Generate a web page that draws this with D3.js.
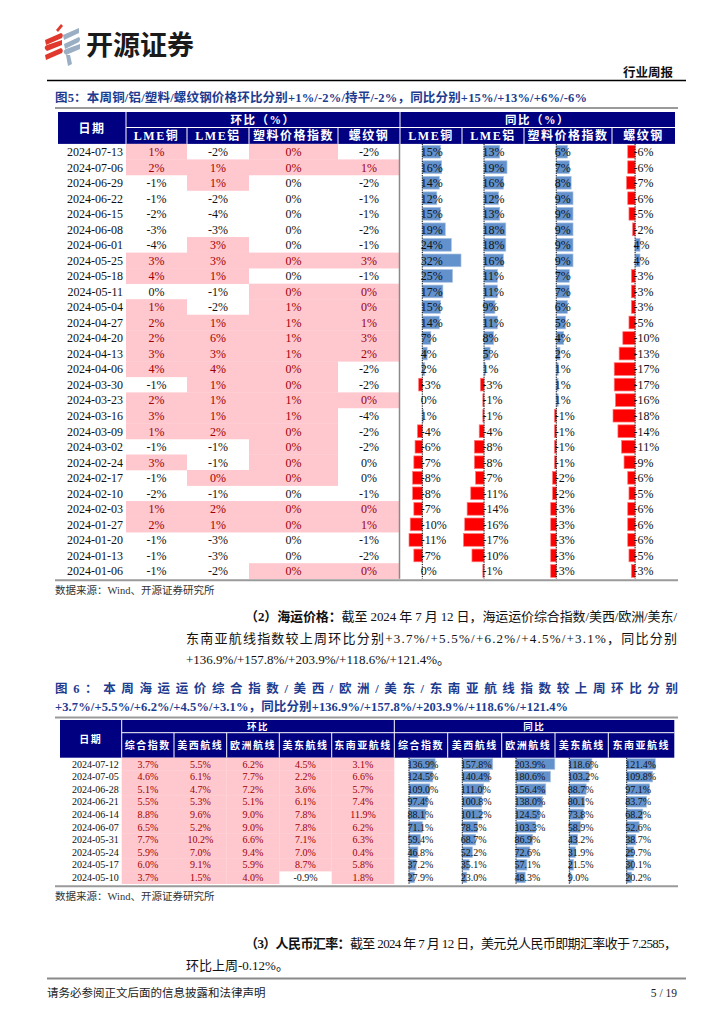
<!DOCTYPE html>
<html><head><meta charset="utf-8">
<script src="https://cdn.jsdelivr.net/npm/d3@7"></script>
<style>body{margin:0;background:#fff}svg{display:block}</style>
</head><body>
<svg id="c" width="724" height="1024"></svg>
<script>
// ---------------- DATA: Figure 5 ----------------
const dates5 = ["2024-07-13","2024-07-06","2024-06-29","2024-06-22","2024-06-15","2024-06-08","2024-06-01","2024-05-25","2024-05-18","2024-05-11","2024-05-04","2024-04-27","2024-04-20","2024-04-13","2024-04-06","2024-03-30","2024-03-23","2024-03-16","2024-03-09","2024-03-02","2024-02-24","2024-02-17","2024-02-10","2024-02-03","2024-01-27","2024-01-20","2024-01-13","2024-01-06"];
const cols5 = ["LME铜","LME铝","塑料价格指数","螺纹钢"];
const hbCu     = [1,2,-1,-1,-2,-3,-4,3,4,0,1,2,2,3,4,-1,2,3,1,-1,3,-1,-2,1,2,-1,-1,-1];
const hbCuPink = [1,1,0,0,0,0,0,1,1,0,1,1,1,1,1,0,1,1,1,0,1,0,0,1,1,0,0,0];
const hbAl     = [-2,1,1,-2,-4,-3,3,3,1,-1,-2,1,6,3,4,1,1,1,2,-1,-1,0,-1,2,1,-3,-3,-2];
const hbAlPink = [0,1,1,0,0,0,1,1,1,0,0,1,1,1,1,1,1,1,1,0,0,1,0,1,1,0,0,0];
const hbPl     = [0,0,0,0,0,0,0,0,0,0,1,1,1,1,0,0,1,1,0,0,0,0,0,0,0,0,0,0];
const hbPlPink = [1,1,0,0,0,0,0,1,0,1,1,1,1,1,1,1,1,1,1,1,1,1,0,1,1,0,0,1];
const hbRb     = [-2,1,-2,-1,-1,-2,-1,3,-1,0,0,1,3,2,-2,-2,0,-4,-2,-2,0,0,-1,0,1,-1,-2,0];
const hbRbPink = [0,1,0,0,0,0,0,1,0,1,1,1,1,1,0,0,1,0,0,0,0,0,0,1,1,0,0,1];
const yoyCu = [15,16,14,12,15,19,24,32,25,17,15,14,7,4,2,-3,0,1,-4,-6,-7,-8,-8,-7,-10,-11,-7,0];
const yoyAl = [13,19,16,12,13,18,18,16,11,11,9,11,8,5,1,-3,-1,-1,-4,-8,-8,-7,-11,-14,-16,-17,-10,-1];
const yoyPl = [6,7,8,9,9,9,9,9,7,7,6,5,4,2,1,1,1,-1,-1,-1,-1,-2,-2,-3,-3,-3,-3,-3];
const yoyRb = [-6,-6,-7,-6,-5,-2,4,4,-3,-3,-3,-5,-10,-13,-17,-17,-16,-18,-14,-11,-9,-6,-5,-6,-6,-6,-5,-3];

// ---------------- DATA: Figure 6 ----------------
const dates6 = ["2024-07-12","2024-07-05","2024-06-28","2024-06-21","2024-06-14","2024-06-07","2024-05-31","2024-05-24","2024-05-17","2024-05-10"];
const cols6 = ["综合指数","美西航线","欧洲航线","美东航线","东南亚航线"];
const hbComp = [3.7,4.6,5.1,5.5,8.8,6.5,7.7,5.9,6.0,3.7];
const hbUSW  = [5.5,6.1,4.7,5.3,9.6,5.2,10.2,7.0,9.1,1.5];
const hbEU   = [6.2,7.7,7.2,5.1,9.0,9.0,6.6,9.4,5.9,4.0];
const hbUSE  = [4.5,2.2,3.6,6.1,7.8,7.8,7.1,7.0,8.7,-0.9];
const hbSEA  = [3.1,6.6,5.7,7.4,11.9,6.2,6.3,0.4,5.8,1.8];
const yoyComp = [136.9,124.5,109.0,97.4,88.1,71.1,59.4,46.8,37.2,27.9];
const yoyUSW  = [157.8,140.4,111.0,100.8,101.2,78.5,68.7,52.2,35.1,23.0];
const yoyEU   = [203.9,180.6,156.4,138.0,124.5,103.3,86.9,72.6,57.1,48.3];
const yoyUSE  = [118.6,103.2,88.7,80.1,73.8,58.9,43.2,31.9,21.5,9.0];
const yoySEA  = [121.4,109.8,97.1,83.7,68.2,52.6,38.7,29.7,30.1,20.2];

// ---------------- STYLE ----------------
const SERIF = "'Liberation Serif','Noto Sans CJK SC',serif";
const CJK = "'Noto Sans CJK SC',sans-serif";
const NAVY = "#000080", PINK = "#FFC7CE", PINKTXT = "#9C0006";
const BLUEBAR = "#6391CC", REDBAR = "#FF0000", TITLE = "#1D3C8F";

const svg = d3.select("#c");

// ---------------- PAGE HEADER ----------------
const logo = svg.append("g");
const RED = "#E0382C", GREY = "#9AAFC3";
// red stack
logo.append("path").attr("d","M56,30 L61,24 L63,26 L58,32 Z").attr("fill",RED);
logo.append("path").attr("d","M45,40 L61,33 Q64,34 62,38 L46,45 Z").attr("fill",RED);
logo.append("path").attr("d","M45,49 Q44,46 47,45 L62,40 L62,45 L47,51 Z").attr("fill",RED);
logo.append("path").attr("d","M45,55 L61,48 Q64,50 62,53 L46,60 Z").attr("fill",RED);
// grey stack
logo.append("path").attr("d","M63,35 L79,28 L79,33 L64,40 Z").attr("fill",GREY);
logo.append("path").attr("d","M64,44 L79,37 Q81,39 79,42 L65,49 Z").attr("fill",GREY);
logo.append("path").attr("d","M64,53 Q63,50 66,49 L80,44 L80,49 L66,55 Z").attr("fill",GREY);
logo.append("path").attr("d","M66,55 L70,55 L72,64 L68,66 Z").attr("fill",GREY);

svg.append("text").attr("x",86).attr("y",55).text("开源证券")
  .attr("font-family",CJK).attr("font-weight",700).attr("font-size",27).attr("fill","#1a1a1a");
svg.append("text").attr("x",673).attr("y",77).attr("text-anchor","end").text("行业周报")
  .attr("font-family",CJK).attr("font-weight",700).attr("font-size",12.5).attr("fill","#111");
svg.append("line").attr("x1",47).attr("x2",686).attr("y1",80.5).attr("y2",80.5).attr("stroke","#000").attr("stroke-width",1.6);

// ---------------- FIGURE 5 TITLE ----------------
svg.append("text").attr("x",55).attr("y",101.5)
  .attr("font-family",SERIF).attr("font-weight",700).attr("font-size",12.5).attr("fill",TITLE)
  .attr("textLength",532).attr("lengthAdjust","spacing")
  .text("图5：本周铜/铝/塑料/螺纹钢价格环比分别+1%/-2%/持平/-2%，同比分别+15%/+13%/+6%/-6%");
svg.append("line").attr("x1",55).attr("x2",678).attr("y1",108).attr("y2",108).attr("stroke","#9a9a9a").attr("stroke-width",2);

// ---------------- TABLE helper ----------------
function drawTable(cfg){
  const g = svg.append("g");
  const n = cfg.dates.length;
  const y = d3.scaleBand().domain(d3.range(n)).range([cfg.bodyTop, cfg.bodyTop + n*cfg.rowH]);
  // header
  g.append("rect").attr("x",cfg.left).attr("y",cfg.headTop).attr("width",cfg.right-cfg.left)
    .attr("height",cfg.bodyTop-cfg.headTop).attr("fill",NAVY);
  const wline = (x1,y1,x2,y2)=>g.append("line").attr("x1",x1).attr("y1",y1).attr("x2",x2).attr("y2",y2)
      .attr("stroke","#fff").attr("stroke-width",1);
  wline(cfg.hbEdges[0],cfg.headTop,cfg.hbEdges[0],cfg.bodyTop);
  wline(cfg.yoyEdges[0],cfg.headTop,cfg.yoyEdges[0],cfg.bodyTop);
  wline(cfg.hbEdges[0],cfg.headSplit,cfg.right,cfg.headSplit);
  cfg.hbEdges.slice(1,-1).concat(cfg.yoyEdges.slice(1,-1)).forEach(x=>wline(x,cfg.headSplit,x,cfg.bodyTop));
  const hdr = (x,yy,t,fs,ls)=>g.append("text").attr("x",x).attr("y",yy).attr("text-anchor","middle")
      .attr("font-family",SERIF).attr("font-weight",700).attr("font-size",fs).attr("fill","#fff")
      .attr("letter-spacing",ls).text(t);
  hdr((cfg.left+cfg.hbEdges[0])/2, (cfg.headTop+cfg.bodyTop)/2+cfg.subFs*0.38, "日期", cfg.subFs, cfg.ls);
  hdr((cfg.hbEdges[0]+cfg.hbEdges[cfg.hbEdges.length-1])/2, (cfg.headTop+cfg.headSplit)/2+cfg.topFs*0.38, cfg.hbTitle, cfg.topFs, cfg.ls);
  hdr((cfg.yoyEdges[0]+cfg.yoyEdges[cfg.yoyEdges.length-1])/2, (cfg.headTop+cfg.headSplit)/2+cfg.topFs*0.38, cfg.yoyTitle, cfg.topFs, cfg.ls);
  cfg.cols.forEach((c,i)=>{
    hdr((cfg.hbEdges[i]+cfg.hbEdges[i+1])/2,(cfg.headSplit+cfg.bodyTop)/2+cfg.subFs*0.38,c,cfg.subFs,cfg.ls);
    hdr((cfg.yoyEdges[i]+cfg.yoyEdges[i+1])/2,(cfg.headSplit+cfg.bodyTop)/2+cfg.subFs*0.38,c,cfg.subFs,cfg.ls);
  });
  // dates
  g.selectAll(null).data(cfg.dates).enter().append("text")
    .attr("x",cfg.hbEdges[0]-3).attr("y",(d,i)=>y(i)+y.bandwidth()/2+cfg.fs*0.36)
    .attr("text-anchor","end").attr("font-family",SERIF).attr("font-size",cfg.fs).attr("fill","#111").text(d=>d);
  // 环比 cells
  cfg.hb.forEach((vals,ci)=>{
    const x0 = cfg.hbEdges[ci], x1 = cfg.hbEdges[ci+1];
    const cells = vals.map((v,i)=>({v, i, p: cfg.hbPink[ci][i]}));
    const cg = g.append("g");
    cg.selectAll("rect").data(cells.filter(c=>c.p)).enter().append("rect")
      .attr("x",x0).attr("width",x1-x0).attr("y",c=>y(c.i)).attr("height",y.bandwidth()+0.3)
      .attr("fill",PINK);
    cg.selectAll("text").data(cells).enter().append("text")
      .attr("x",(x0+x1)/2).attr("y",c=>y(c.i)+y.bandwidth()/2+cfg.fs*0.36)
      .attr("text-anchor","middle").attr("font-family",SERIF).attr("font-size",cfg.fs)
      .attr("fill",c=>c.p?PINKTXT:"#111").text(c=>cfg.fmt(c.v));
  });
  // 同比 data bars
  cfg.yoy.forEach((vals,ci)=>{
    const x = d3.scaleLinear().domain(cfg.yoyDomain(vals)).range(cfg.yoyRange[ci]);
    const ax = x(0);
    const cg = g.append("g");
    cg.selectAll("rect").data(vals).enter().append("rect")
      .attr("x",d=>Math.min(x(d),ax)).attr("width",d=>Math.abs(x(d)-ax))
      .attr("y",(d,i)=>y(i)+cfg.barPad).attr("height",y.bandwidth()-2*cfg.barPad)
      .attr("fill",d=>d>=0?BLUEBAR:REDBAR)
      .attr("stroke",d=>d>=0?"#A9C1E2":"#FF7A7A").attr("stroke-width",0.7);
    cg.append("line").attr("x1",ax).attr("x2",ax).attr("y1",cfg.bodyTop).attr("y2",cfg.bodyTop+n*cfg.rowH)
      .attr("stroke","#000").attr("stroke-width",1).attr("stroke-dasharray","1.2,1.2");
    cg.selectAll("text").data(vals).enter().append("text")
      .attr("x",ax-1.5).attr("y",(d,i)=>y(i)+y.bandwidth()/2+cfg.fs*0.36)
      .attr("font-family",SERIF).attr("font-size",cfg.fs).attr("fill","#111").text(d=>cfg.fmt(d));
  });
  if(cfg.midLine){
    g.append("line").attr("x1",cfg.yoyEdges[0]-0.5).attr("x2",cfg.yoyEdges[0]-0.5)
      .attr("y1",cfg.bodyTop).attr("y2",cfg.bodyTop+n*cfg.rowH).attr("stroke","#8a8a8a").attr("stroke-width",1.5);
  }
  const by = cfg.bodyTop+n*cfg.rowH+cfg.bottomGap;
  g.append("line").attr("x1",cfg.lineL).attr("x2",cfg.lineR).attr("y1",by).attr("y2",by)
    .attr("stroke","#9a9a9a").attr("stroke-width",2);
  g.append("text").attr("x",55).attr("y",by+14).attr("font-family",SERIF).attr("font-size",10.5)
    .attr("fill","#333").text("数据来源：Wind、开源证券研究所");
}

drawTable({
  dates: dates5, cols: cols5, hbTitle:"环比（%）", yoyTitle:"同比（%）",
  left:58, right:675, headTop:112, headSplit:127.5, bodyTop:143.9, rowH:15.53,
  hbEdges:[126,187,249,338,400], yoyEdges:[400,462,524,612,675],
  hb:[hbCu,hbAl,hbPl,hbRb], hbPink:[hbCuPink,hbAlPink,hbPlPink,hbRbPink],
  yoy:[yoyCu,yoyAl,yoyPl,yoyRb],
  yoyDomain: v=>d3.extent(v),
  yoyRange:[[409,461],[463.5,507],[550.7,573],[613,640]],
  fmt: d=>d+"%", fs:12, subFs:12, topFs:11.5, ls:1.5, barPad:1.4,
  midLine:true, lineL:55, lineR:678, bottomGap:1.5
});

// ---------------- PARAGRAPH (2) ----------------
const BODY = 13;
function para(x,y,len,parts){
  const t = svg.append("text").attr("x",x).attr("y",y).attr("font-family",SERIF).attr("font-size",BODY).attr("fill","#111");
  if(len) t.attr("textLength",len).attr("lengthAdjust","spacing");
  parts.forEach(p=>t.append("tspan").attr("font-weight",p[1]?700:400).text(p[0]));
}
para(245,621,432,[["（2）海运价格：",1],["截至 2024 年 7 月 12 日，海运运价综合指数/美西/欧洲/美东/",0]]);
para(186,643,491,[["东南亚航线指数较上周环比分别+3.7%/+5.5%/+6.2%/+4.5%/+3.1%，同比分别",0]]);
para(186,664,null,[["+136.9%/+157.8%/+203.9%/+118.6%/+121.4%。",0]]);

// ---------------- FIGURE 6 TITLE ----------------
svg.append("text").attr("x",55).attr("y",693).attr("font-family",SERIF).attr("font-weight",700)
  .attr("font-size",12.5).attr("fill",TITLE).attr("textLength",623).attr("lengthAdjust","spacing")
  .text("图6：本周海运运价综合指数/美西/欧洲/美东/东南亚航线指数较上周环比分别");
svg.append("text").attr("x",55).attr("y",711).attr("font-family",SERIF).attr("font-weight",700)
  .attr("font-size",12.5).attr("fill",TITLE).attr("textLength",513).attr("lengthAdjust","spacing")
  .text("+3.7%/+5.5%/+6.2%/+4.5%/+3.1%，同比分别+136.9%/+157.8%/+203.9%/+118.6%/+121.4%");
svg.append("line").attr("x1",55).attr("x2",678).attr("y1",717.5).attr("y2",717.5).attr("stroke","#9a9a9a").attr("stroke-width",2);

drawTable({
  dates: dates6, cols: cols6, hbTitle:"环比", yoyTitle:"同比",
  left:60, right:674.3, headTop:720, headSplit:732.7, bodyTop:757.7, rowH:12.6,
  hbEdges:[121.7,174,226.7,279.3,331.7,394.3], yoyEdges:[394.3,447.7,501.7,555,608.3,674.3],
  hb:[hbComp,hbUSW,hbEU,hbUSE,hbSEA],
  hbPink:[hbComp,hbUSW,hbEU,hbUSE,hbSEA].map(a=>a.map(v=>v>0?1:0)),
  yoy:[yoyComp,yoyUSW,yoyEU,yoyUSE,yoySEA],
  yoyDomain: v=>[0,280],
  yoyRange:[[409,462.4],[462.3,516.3],[516,569.3],[569.3,622.6],[626.7,692.7]],
  fmt: d=>d.toFixed(1)+"%", fs:10, subFs:10, topFs:9.5, ls:1.5, barPad:1,
  midLine:false, lineL:55, lineR:678, bottomGap:2.5
});

// ---------------- PARAGRAPH (3) ----------------
para(245,948,432,[["（3）人民币汇率：",1],["截至 2024 年 7 月 12 日，美元兑人民币即期汇率收于 7.2585，",0]]);
para(186,970,null,[["环比上周-0.12%。",0]]);

svg.append("line").attr("x1",47).attr("x2",686).attr("y1",978.5).attr("y2",978.5).attr("stroke","#8a8a8a").attr("stroke-width",2);
svg.append("text").attr("x",47).attr("y",997).attr("font-family",SERIF).attr("font-size",11.5).attr("fill","#222")
  .text("请务必参阅正文后面的信息披露和法律声明");
svg.append("text").attr("x",677).attr("y",997).attr("text-anchor","end").attr("font-family",SERIF).attr("font-size",11.5).attr("fill","#222")
  .text("5 / 19");
</script>
</body></html>
